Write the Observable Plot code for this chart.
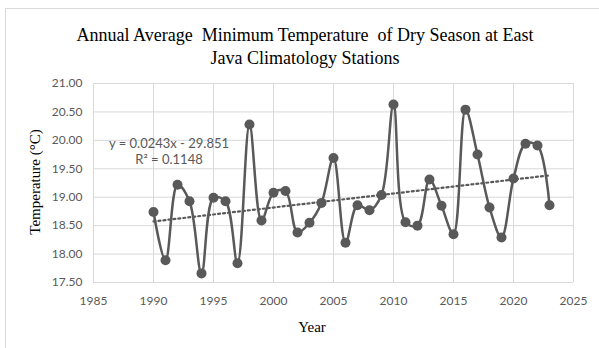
<!DOCTYPE html>
<html>
<head>
<meta charset="utf-8">
<script src="https://cdn.jsdelivr.net/npm/d3@7"></script>
<script src="https://cdn.jsdelivr.net/npm/@observablehq/plot@0.6"></script>
<style>
  html, body { margin: 0; padding: 0; background: #fff; width: 599px; height: 348px; overflow: hidden; }
  #frame { position: absolute; left: 5px; top: 8px; width: 700px; height: 400px; border: 1px solid #d9d9d9; box-sizing: border-box; }
  #chart { position: absolute; left: 0; top: 0; }
  .t { position: absolute; white-space: nowrap; }
  #title { left: 0; width: 610px; top: 24px; text-align: center; font-family: "Liberation Serif", serif; font-size: 18px; line-height: 23px; color: #000; }
  #ylab { left: 35px; top: 182px; transform: translate(-50%, -50%) rotate(-90deg); font-family: "Liberation Serif", serif; font-size: 15px; color: #000; }
  #xlab { left: 312px; top: 327px; transform: translate(-50%, -50%); font-family: "Liberation Serif", serif; font-size: 15px; color: #000; }
  .eq { transform: translate(-50%, -50%); font-family: "Lato", sans-serif; font-size: 13px; color: #595959; }
</style>
</head>
<body>
<div id="frame"></div>
<div id="chart"></div>
<div class="t" id="title">Annual Average&nbsp; Minimum Temperature&nbsp; of Dry Season at East<br>Java Climatology Stations</div>
<div class="t" id="ylab">Temperature (°C)</div>
<div class="t" id="xlab">Year</div>
<div class="t eq" id="eq1" style="left:169px; top:143px;">y = 0.0243x - 29.851</div>
<div class="t eq" id="eq2" style="left:169px; top:159px;">R² = 0.1148</div>
<script>
const years = [1990,1991,1992,1993,1994,1995,1996,1997,1998,1999,
               2000,2001,2002,2003,2004,2005,2006,2007,2008,2009,
               2010,2011,2012,2013,2014,2015,2016,2017,2018,2019,
               2020,2021,2022,2023];
const temps = [18.74,17.89,19.22,18.93,17.66,18.99,18.93,17.84,20.28,18.59,
               19.08,19.11,18.38,18.55,18.90,19.69,18.20,18.86,18.77,19.04,
               20.63,18.56,18.50,19.31,18.85,18.35,20.54,19.75,18.82,18.29,
               19.33,19.94,19.91,18.86];
const xTicks = [1985,1990,1995,2000,2005,2010,2015,2020,2025];
const yTicks = [17.5,18,18.5,19,19.5,20,20.5,21];

const data = years.map((y, i) => ({year: y, temp: temps[i]}));
const col = "#595959";

const chart = Plot.plot({
  width: 599,
  height: 348,
  marginLeft: 93,
  marginRight: 26,
  marginTop: 83,
  marginBottom: 66,
  style: {fontFamily: "Lato, sans-serif", fontSize: "12px", color: col, background: "transparent"},
  x: {domain: [1985, 2025], ticks: xTicks, tickFormat: d => String(d), label: null},
  y: {domain: [17.5, 21], ticks: yTicks, tickFormat: d3.format(".2f"), label: null},
  marks: [
    Plot.gridX(xTicks, {stroke: "#d9d9d9", strokeOpacity: 1, strokeWidth: 1}),
    Plot.gridY(yTicks, {stroke: "#d9d9d9", strokeOpacity: 1, strokeWidth: 1}),
    Plot.axisX(xTicks, {tickSize: 0, tickPadding: 14, fill: col, tickFormat: d => String(d)}),
    Plot.axisY(yTicks, {tickSize: 0, tickPadding: 11, fill: col, tickFormat: d3.format(".2f")}),
    Plot.linearRegressionY(data, {x: "year", y: "temp", ci: 0, stroke: col, strokeWidth: 2.2, strokeDasharray: "2,3"}),
    Plot.line(data, {x: "year", y: "temp", curve: "catmull-rom", stroke: col, strokeWidth: 2.5}),
    Plot.dot(data, {x: "year", y: "temp", r: 5, fill: col, stroke: "none"})
  ]
});
document.getElementById("chart").appendChild(chart);
</script>
</body>
</html>
